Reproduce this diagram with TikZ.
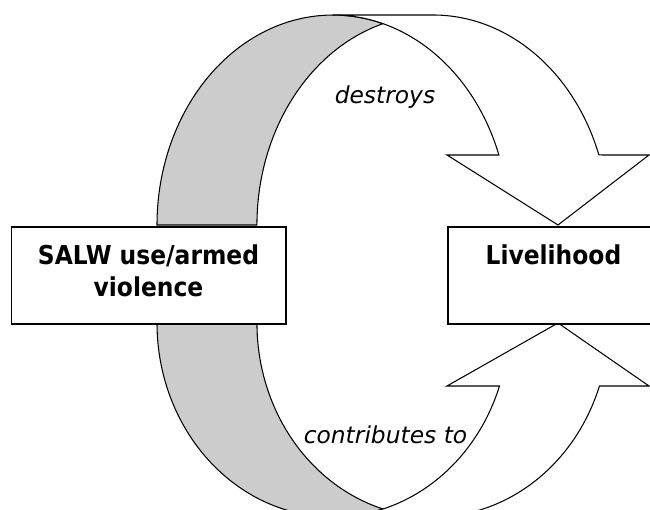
\documentclass[tikz,border=0pt]{standalone}
\usepackage{fontspec}
\setmainfont{DejaVu Sans}
\newfontfamily\boxfont{DejaVu Sans Condensed}
\definecolor{backgray}{HTML}{CCCCCC}
\begin{document}
\begin{tikzpicture}[
x=0.02cm,y=0.02cm,
box/.style={%
draw,
fill=white,
line width=0.6pt,
font=\boxfont\fontsize{14.8}{18.2}\selectfont\bfseries,
align=center,
minimum height=1.94cm,
inner sep=0pt,
text depth=6pt
},
band/.style={%
draw,
line width=0.6pt,
line join=miter
},
verb/.style={%
font=\fontsize{13.3}{16}\selectfont\itshape,
anchor=base
}
]
\useasboundingbox(0,0)rectangle(650,510);
\clip(0,0)rectangle(650,510);
%% Upper arrow: back strip
\path[band,fill=backgray](157,285)arc[start angle=180,end angle=73.5,x radius=3.52cm,y radius=4.2cm]
arc[start angle=106.5,end angle=180,x radius=3.52cm,y radius=4.2cm]--cycle;
%% Upper arrow: front band and head
\path[band,fill=white](333,495)--(433,495)arc[start angle=90,end angle=19.47,x radius=3.52cm,y radius=4.2cm]
--(649,355)--(558,285)--(447,355)--(498.9,355)arc[start angle=19.47,end angle=90,x radius=3.52cm,y radius=4.2cm]--cycle;
%% Lower arrow: back strip
\path[band,fill=backgray](157,187)arc[start angle=180,end angle=286.5,x radius=3.52cm,y radius=3.88cm]
arc[start angle=253.5,end angle=180,x radius=3.52cm,y radius=3.88cm]--cycle;
%% Lower arrow: front band and head
\path[band,fill=white](333,-7)--(433,-7)arc[start angle=270,end angle=341.05,x radius=3.52cm,y radius=3.88cm]
--(649,124)--(558,187)--(447,124)--(499.5,124)arc[start angle=341.05,end angle=270,x radius=3.52cm,y radius=3.88cm]--cycle;
%% Boxes
\node[box,minimum width=5.5cm]at(148.5,234.5)(salw){SALW use/armed\\violence};
\node[box,minimum width=4.22cm]at(553.5,234.5)(live){Livelihood\\\mbox{}};
%% Labels
\node[verb]at(385,406)(destroys){destroys};
\node[verb]at(385.5,66)(contrib){contributes to};
\end{tikzpicture}
\end{document}
